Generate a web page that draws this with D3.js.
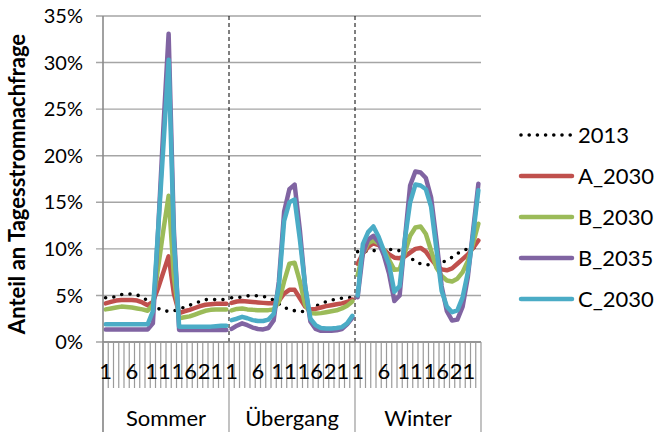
<!DOCTYPE html>
<html><head><meta charset="utf-8">
<script src="https://cdn.jsdelivr.net/npm/d3@7"></script>
<style>
body{margin:0;background:#fff}
svg{display:block}
text{font-family:Lato,"Open Sans",sans-serif;fill:#000}
</style>
</head><body>
<svg id="c" width="654" height="432"></svg>
<script>
// ---- data (share of daily electricity demand, %) ----
const groups = ["Sommer", "Übergang", "Winter"];
const hourLabels = ["1", "6", "11", "16", "21"];
const yTicks = [0, 5, 10, 15, 20, 25, 30, 35];
const seriesNames = ["2013", "A_2030", "B_2030", "B_2035", "C_2030"];
const colors = ["#000000", "#C0504D", "#9BBB59", "#8064A2", "#4BACC6"];

const s2013 = [
  4.75,4.75,4.9,5.1,5.15,5.15,5.05,4.8,4.45,4.0,3.6,3.35,3.3,3.35,3.5,3.75,3.95,4.15,4.35,4.55,4.55,4.55,4.55,4.55,
  4.75,4.75,4.85,4.95,4.97,4.97,4.9,4.76,4.5,4.1,3.72,3.5,3.36,3.25,3.3,3.5,3.85,4.1,4.33,4.5,4.6,4.7,4.75,4.8,
  9.7,9.75,9.75,9.8,9.9,9.95,9.95,9.9,9.8,9.5,9.1,8.6,8.4,8.3,8.3,8.4,8.55,8.75,9.1,9.5,9.8,10.0,10.1,10.2
];
const sA2030 = [
  4.15,4.3,4.45,4.5,4.5,4.5,4.45,4.25,3.95,4.3,5.8,7.5,9.2,5.2,3.1,3.3,3.45,3.65,3.85,4.0,4.05,4.1,4.1,4.1,
  4.2,4.35,4.4,4.35,4.3,4.25,4.2,4.15,4.15,4.4,5.2,5.6,5.6,4.7,3.8,3.5,3.55,3.7,3.85,3.95,4.05,4.15,4.3,4.55,
  8.4,9.5,10.2,10.6,10.4,9.9,9.4,9.05,9.0,9.2,9.6,10.0,10.1,9.7,8.9,8.2,7.8,7.7,7.9,8.4,8.9,9.4,10.1,10.9
];
const sB2030 = [
  3.5,3.6,3.7,3.8,3.75,3.7,3.6,3.5,3.35,4.0,8.0,12.0,15.7,7.0,2.55,2.65,2.75,2.95,3.15,3.35,3.45,3.5,3.5,3.5,
  3.4,3.55,3.6,3.5,3.45,3.42,3.42,3.42,3.5,4.3,6.5,8.4,8.5,6.5,4.0,3.1,3.05,3.1,3.2,3.3,3.4,3.6,3.9,4.35,
  7.2,9.5,10.6,10.9,10.6,9.9,8.8,7.75,7.8,9.6,11.4,12.3,12.4,11.6,9.8,8.0,7.1,6.6,6.5,6.8,7.5,8.7,10.6,12.7
];
const sB2035 = [
  1.35,1.35,1.35,1.35,1.35,1.35,1.35,1.35,1.35,2.0,12.0,23.0,33.1,12.0,1.3,1.3,1.3,1.3,1.3,1.3,1.3,1.3,1.3,1.3,
  1.4,1.75,2.0,1.8,1.55,1.4,1.35,1.5,2.3,6.5,14.0,16.4,16.9,12.0,6.0,2.2,1.4,1.2,1.2,1.2,1.25,1.4,1.9,2.6,
  4.8,9.5,11.0,11.4,10.7,9.3,7.3,4.4,5.0,11.0,16.8,18.3,18.2,17.6,15.5,11.0,6.0,3.3,2.3,2.4,3.8,7.0,12.0,17.0
];
const sC2030 = [
  1.9,1.9,1.9,1.9,1.9,1.9,1.9,1.9,1.9,3.3,12.0,21.0,30.3,11.0,1.65,1.65,1.65,1.65,1.65,1.65,1.65,1.7,1.75,1.75,
  2.35,2.5,2.7,2.55,2.35,2.25,2.25,2.4,3.0,6.0,13.0,15.0,15.3,11.0,6.0,2.5,1.8,1.5,1.45,1.45,1.5,1.6,2.0,2.8,
  5.0,10.5,11.8,12.4,11.3,9.8,8.3,5.4,6.0,11.0,15.0,16.9,16.8,16.4,14.5,10.0,5.5,3.8,3.2,3.4,4.8,7.5,11.5,16.3
];
const seriesValues = [s2013, sA2030, sB2030, sB2035, sC2030];

// ---- layout ----
const svg = d3.select("#c");
const L = 103, R = 481, T = 16, B = 342;
const nPer = 24, nCat = groups.length * nPer;
const x = d3.scaleBand().domain(d3.range(nCat)).range([L, R]).padding(0);
const y = d3.scaleLinear().domain([0, 35]).range([B, T]);
const cx = i => x(i) + x.bandwidth() / 2;

// gridlines
svg.append("g").selectAll("line").data(yTicks).join("line")
  .attr("x1", L - 7).attr("x2", R).attr("y1", d => y(d)).attr("y2", d => y(d))
  .attr("stroke", "#a5a5a5").attr("stroke-width", 1.4);

// dashed separators between seasons
svg.append("g").selectAll("line").data([1, 2]).join("line")
  .attr("x1", g => x(g * nPer)).attr("x2", g => x(g * nPer))
  .attr("y1", T).attr("y2", B)
  .attr("stroke", "#000").attr("stroke-width", 1).attr("stroke-dasharray", "4,3");

// y tick labels
svg.append("g").selectAll("text").data(yTicks).join("text")
  .attr("x", 83).attr("y", d => y(d)).attr("dy", "0.36em")
  .attr("text-anchor", "end").attr("font-size", 20)
  .text(d => d + "%");

// y axis title
svg.append("text")
  .attr("transform", "translate(25,184) rotate(-90)")
  .attr("text-anchor", "middle").attr("font-size", 22).attr("font-weight", "bold")
  .text("Anteil an Tagesstromnachfrage");

// series lines (drawn per season, segments not connected across seasons)
const line = d3.line().x(d => cx(d.i)).y(d => y(d.v)).curve(d3.curveLinear);
seriesValues.forEach((vals, s) => {
  groups.forEach((g, gi) => {
    const pts = d3.range(nPer).map(h => ({i: gi * nPer + h, v: vals[gi * nPer + h]}));
    const p = svg.append("path").datum(pts).attr("d", line).attr("fill", "none")
      .attr("stroke", colors[s]).attr("stroke-linejoin", "round").attr("stroke-linecap", "round");
    if (s === 0) p.attr("stroke-width", 3.6).attr("stroke-dasharray", "0,8.3");
    else p.attr("stroke-width", 4.5);
  });
});

// axes
const ax = svg.append("g").attr("stroke", "#8a8a8a");
ax.append("line").attr("x1", L).attr("x2", L).attr("y1", T).attr("y2", 432).attr("stroke-width", 1.6);
ax.append("line").attr("x1", L).attr("x2", R).attr("y1", B).attr("y2", B).attr("stroke-width", 1.6);
ax.selectAll("line.t").data(d3.range(nCat + 1)).join("line").attr("class", "t")
  .attr("x1", k => L + k * x.bandwidth()).attr("x2", k => L + k * x.bandwidth())
  .attr("y1", B).attr("y2", k => (k % nPer === 0) ? 432 : 388)
  .attr("stroke", "#9a9a9a").attr("stroke-width", 1.2);

// hour labels
const hl = [];
groups.forEach((g, gi) => hourLabels.forEach(h => hl.push({i: gi * nPer + (+h - 1), t: h})));
svg.append("g").selectAll("text").data(hl).join("text")
  .attr("x", d => cx(d.i)).attr("y", 379).attr("text-anchor", "middle")
  .attr("font-size", 22).text(d => d.t);

// season labels
svg.append("g").selectAll("text").data(groups).join("text")
  .attr("x", (g, gi) => (x(gi * nPer) + (gi === 2 ? R : x((gi + 1) * nPer))) / 2)
  .attr("y", 426).attr("text-anchor", "middle").attr("font-size", 22).text(d => d);

// legend
const lg = svg.append("g");
seriesNames.forEach((n, s) => {
  const yy = 135 + s * 41;
  const l = lg.append("line").attr("x1", 521).attr("x2", 572).attr("y1", yy).attr("y2", yy)
    .attr("stroke", colors[s]).attr("stroke-linecap", "round");
  if (s === 0) l.attr("stroke-width", 3.6).attr("stroke-dasharray", "0,8.2");
  else l.attr("stroke-width", 4.5);
  lg.append("text").attr("x", 578).attr("y", yy).attr("dy", "0.36em").attr("font-size", 22).text(n);
});
</script>
</body></html>
